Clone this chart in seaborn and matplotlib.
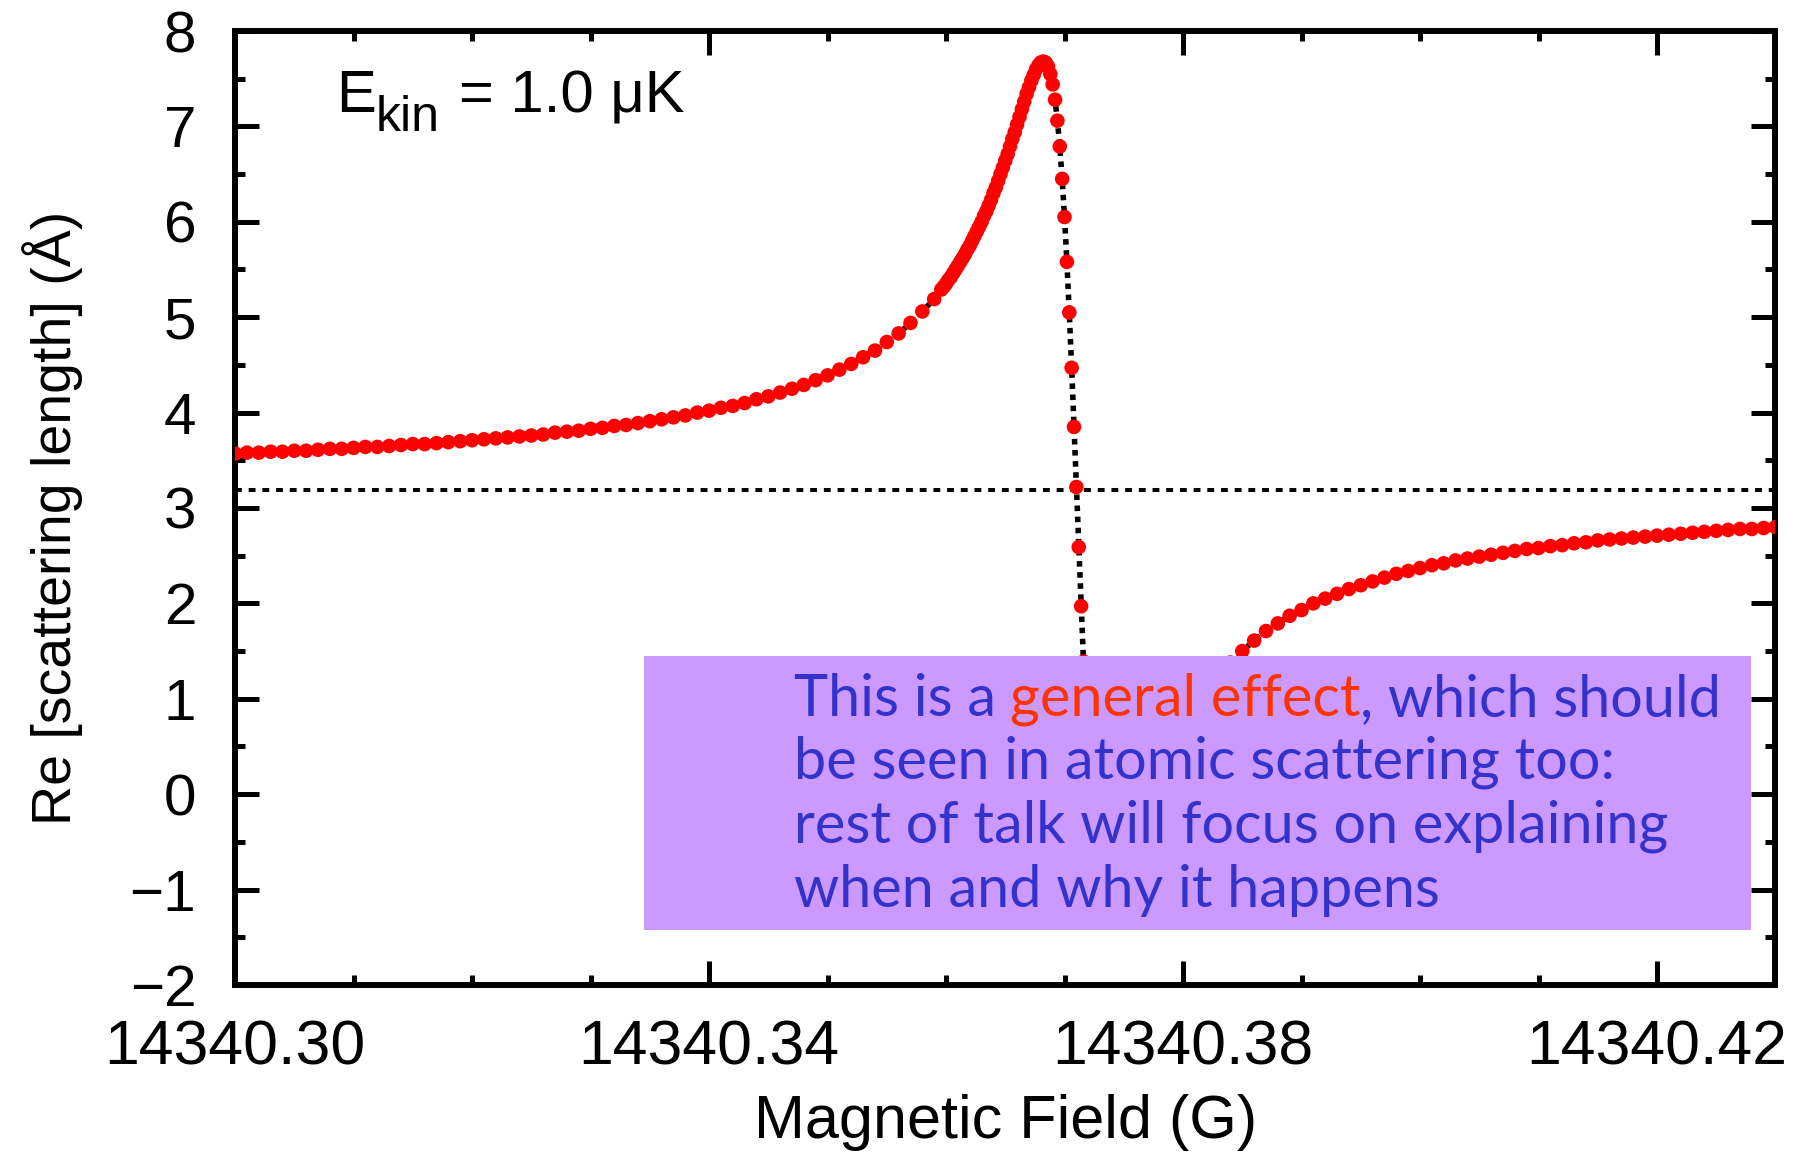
import numpy as np
import pandas as pd
import matplotlib
matplotlib.use("Agg")
import matplotlib.pyplot as plt
from matplotlib.patches import Rectangle
from matplotlib.ticker import MultipleLocator, FormatStrFormatter
import seaborn as sns

# field values are given as offsets above 14340 G
B0 = 14340.0

# below resonance, coarse sampling
left_x = [0.300, 0.301, 0.302, 0.303, 0.304, 0.305, 0.306, 0.307, 0.308, 0.309,
          0.310, 0.311, 0.312, 0.313, 0.314, 0.315, 0.316, 0.317, 0.318, 0.319,
          0.320, 0.321, 0.322, 0.323, 0.324, 0.325, 0.326, 0.327, 0.328, 0.329,
          0.330, 0.331, 0.332, 0.333, 0.334, 0.335, 0.336, 0.337, 0.338, 0.339,
          0.340, 0.341, 0.342, 0.343, 0.344, 0.345, 0.346, 0.347, 0.348, 0.349,
          0.350, 0.351, 0.352, 0.353, 0.354, 0.355, 0.356, 0.357, 0.358, 0.359]
left_y = [3.57, 3.58, 3.58, 3.59, 3.59, 3.60, 3.60, 3.61, 3.62, 3.62,
          3.63, 3.64, 3.64, 3.65, 3.66, 3.67, 3.67, 3.68, 3.69, 3.70,
          3.71, 3.72, 3.73, 3.74, 3.75, 3.76, 3.77, 3.79, 3.80, 3.81,
          3.83, 3.84, 3.86, 3.87, 3.89, 3.91, 3.93, 3.95, 3.97, 4.00,
          4.02, 4.05, 4.07, 4.10, 4.14, 4.17, 4.21, 4.25, 4.29, 4.34,
          4.39, 4.45, 4.51, 4.58, 4.65, 4.74, 4.83, 4.94, 5.06, 5.19]

# fine sampling up to the peak
peak_x = [0.3596, 0.3598, 0.3600, 0.3602, 0.3604, 0.3606, 0.3608, 0.3610, 0.3612, 0.3614,
          0.3616, 0.3618, 0.3620, 0.3622, 0.3624, 0.3626, 0.3628, 0.3630, 0.3632, 0.3634,
          0.3636, 0.3638, 0.3640, 0.3642, 0.3644, 0.3646, 0.3648, 0.3650, 0.3652, 0.3654,
          0.3656, 0.3658, 0.3660, 0.3662, 0.3664, 0.3666, 0.3668, 0.3670, 0.3672, 0.3674,
          0.3676, 0.3678, 0.3680, 0.3682, 0.3684]
peak_y = [5.29, 5.32, 5.35, 5.39, 5.42, 5.46, 5.50, 5.54, 5.58, 5.62,
          5.66, 5.71, 5.75, 5.80, 5.85, 5.90, 5.95, 6.00, 6.06, 6.11,
          6.17, 6.23, 6.30, 6.36, 6.43, 6.50, 6.57, 6.64, 6.71, 6.79,
          6.87, 6.94, 7.02, 7.10, 7.18, 7.26, 7.34, 7.41, 7.48, 7.54,
          7.60, 7.64, 7.67, 7.68, 7.67]

# steep drop through the background value
drop_x = [0.3686, 0.3688, 0.3690, 0.3692, 0.3694, 0.3696, 0.3698, 0.3700, 0.3702, 0.3704,
          0.3706, 0.3708, 0.3710, 0.3712, 0.3714, 0.3716, 0.3718, 0.3720, 0.3722, 0.3724]
drop_y = [7.63, 7.55, 7.44, 7.28, 7.06, 6.79, 6.45, 6.05, 5.58, 5.05,
          4.47, 3.85, 3.22, 2.59, 1.97, 1.39, 0.86, 0.40, -0.01, -0.35]

# above resonance, coarse sampling
right_x = [0.373, 0.374, 0.375, 0.376, 0.377, 0.378, 0.379, 0.380, 0.381, 0.382,
           0.383, 0.384, 0.385, 0.386, 0.387, 0.388, 0.389, 0.390, 0.391, 0.392,
           0.393, 0.394, 0.395, 0.396, 0.397, 0.398, 0.399, 0.400, 0.401, 0.402,
           0.403, 0.404, 0.405, 0.406, 0.407, 0.408, 0.409, 0.410, 0.411, 0.412,
           0.413, 0.414, 0.415, 0.416, 0.417, 0.418, 0.419, 0.420, 0.421, 0.422,
           0.423, 0.424, 0.425, 0.426, 0.427, 0.428, 0.429, 0.430]
right_y = [-1.00, -1.23, -0.97, -0.58, -0.20, 0.14, 0.44, 0.69, 0.90, 1.09,
           1.25, 1.38, 1.50, 1.61, 1.71, 1.79, 1.87, 1.93, 2.00, 2.05,
           2.10, 2.15, 2.19, 2.23, 2.27, 2.31, 2.34, 2.37, 2.40, 2.42,
           2.45, 2.47, 2.49, 2.51, 2.53, 2.55, 2.57, 2.58, 2.60, 2.61,
           2.63, 2.64, 2.66, 2.67, 2.68, 2.69, 2.70, 2.71, 2.72, 2.73,
           2.74, 2.75, 2.76, 2.77, 2.78, 2.78, 2.79, 2.80]

background = 3.19
x_ticks = [14340.30, 14340.34, 14340.38, 14340.42]

sns.set_theme(style="ticks")
plt.rcParams['font.family'] = ['Liberation Sans', 'DejaVu Sans']
plt.rcParams['text.color'] = 'black'
plt.rcParams['axes.labelcolor'] = 'black'
plt.rcParams['xtick.color'] = 'black'
plt.rcParams['ytick.color'] = 'black'
box_font = ['Lato', 'DejaVu Sans']
blue = "#3333CC"
orange = "#FF3300"

df = pd.DataFrame({
    "field": B0 + np.array(left_x + peak_x + drop_x + right_x),
    "re_a": left_y + peak_y + drop_y + right_y,
})

fig = plt.figure(figsize=(18.04, 11.57), dpi=100)
ax = fig.add_axes([0.1303, 0.1487, 0.8539, 0.8245])

ax.axhline(background, color="black", lw=2.9, linestyle=(0, (1.7, 1.7)), zorder=1.5)
sns.lineplot(data=df, x="field", y="re_a", ax=ax, color="black", lw=4.0,
             linestyle=(0, (1, 1)), estimator=None, zorder=2)
sns.scatterplot(data=df, x="field", y="re_a", ax=ax, color="red", s=110,
                linewidth=0, edgecolor="none", zorder=3)

ax.set_xlim(B0 + 0.30, B0 + 0.43)
ax.set_ylim(-2, 8)
ax.set_xticks(x_ticks)
ax.xaxis.set_major_formatter(FormatStrFormatter('%.2f'))
ax.xaxis.set_minor_locator(MultipleLocator(0.01))
ax.yaxis.set_major_locator(MultipleLocator(1))
ax.yaxis.set_minor_locator(MultipleLocator(0.5))
ax.tick_params(which='both', direction='in', top=True, right=True, width=3.6, color='black')
ax.tick_params(which='major', length=17)
ax.tick_params(which='minor', length=7)
ax.tick_params(axis='x', which='major', labelsize=45, labelcolor='black', pad=24)
ax.tick_params(axis='y', which='major', labelsize=42, labelcolor='black', pad=28)
for sp in ax.spines.values():
    sp.set_linewidth(4.3)
    sp.set_color('black')

ax.set_xlabel("Magnetic Field (G)", fontsize=44, color='black')
ax.set_ylabel("Re [scattering length] (Å)", fontsize=40, color='black')
ax.xaxis.set_label_coords(0.5, -0.114)
ax.yaxis.set_label_coords(-0.099, 0.49)

# temperature label
t_e = ax.text(0.0655, 0.915, "E", transform=ax.transAxes, fontsize=43, va='baseline')
t_k = ax.annotate("kin", xy=(1, 0), xycoords=t_e, xytext=(0, -12),
                  textcoords='offset points', fontsize=36, va='bottom')
ax.annotate("= 1.0 μK", xy=(1, 0), xycoords=t_k, xytext=(14, 12),
            textcoords='offset points', fontsize=43, va='bottom')

# comment box
ax.add_patch(Rectangle((0.2655, 0.0577), 0.7186, 0.2872, transform=ax.transAxes,
                       facecolor="#CC99FF", edgecolor="none", zorder=5))
fs = 41.5
t1 = ax.text(0.3629, 0.282, "This is a", transform=ax.transAxes, fontsize=fs,
             family=box_font, color=blue, va='baseline', zorder=6)
t2 = ax.annotate("general effect", xy=(1, 0), xycoords=t1, xytext=(10, 0),
                 textcoords='offset points', fontsize=fs, family=box_font,
                 color=orange, va='bottom', zorder=6)
ax.annotate(", which should", xy=(1, 0), xycoords=t2, xytext=(0, 0),
            textcoords='offset points', fontsize=fs, family=box_font,
            color=blue, va='bottom', zorder=6)
other_lines = ["be seen in atomic scattering too:",
               "rest of talk will focus on explaining",
               "when and why it happens"]
line_y = [0.216, 0.149, 0.082]
for txt, yy in zip(other_lines, line_y):
    ax.text(0.3629, yy, txt, transform=ax.transAxes, fontsize=fs,
            family=box_font, color=blue, va='baseline', zorder=6)

fig.savefig("out.png", dpi=100, facecolor="white")
